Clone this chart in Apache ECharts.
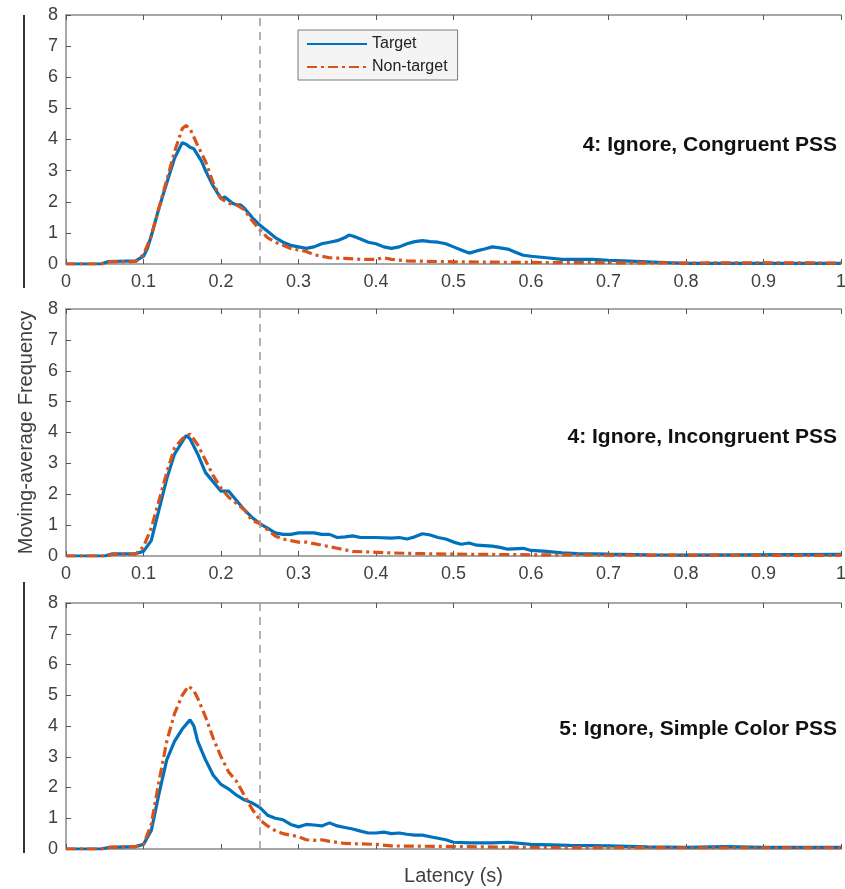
<!DOCTYPE html>
<html>
<head>
<meta charset="utf-8">
<script src="https://cdn.jsdelivr.net/npm/echarts@6/dist/echarts.min.js"></script>
<style>
  html, body { margin: 0; padding: 0; background: #fff; }
  #chart { width: 845px; height: 889px; }
</style>
</head>
<body>
<div id="chart"></div>
<script>
  // latency (s), moving-average frequency
  var panelTitles = ['4: Ignore, Congruent PSS', '4: Ignore, Incongruent PSS', '5: Ignore, Simple Color PSS'];
  var xTicks = [0, 0.1, 0.2, 0.3, 0.4, 0.5, 0.6, 0.7, 0.8, 0.9, 1];
  var cutoff = 0.25;

  var target1 = [[0,0],[0.045,0],[0.055,0.08],[0.09,0.1],[0.1,0.25],[0.105,0.5],[0.11,0.9],[0.12,1.8],[0.13,2.6],[0.14,3.4],[0.15,3.9],[0.155,3.85],[0.16,3.75],[0.165,3.7],[0.17,3.5],[0.175,3.3],[0.18,3.0],[0.19,2.5],[0.2,2.1],[0.205,2.15],[0.21,2.05],[0.215,1.95],[0.22,1.9],[0.225,1.9],[0.23,1.8],[0.24,1.5],[0.25,1.25],[0.26,1.05],[0.27,0.85],[0.28,0.7],[0.29,0.6],[0.3,0.55],[0.31,0.5],[0.32,0.55],[0.33,0.65],[0.34,0.7],[0.35,0.75],[0.36,0.85],[0.365,0.93],[0.37,0.9],[0.38,0.8],[0.39,0.7],[0.4,0.65],[0.41,0.55],[0.42,0.5],[0.43,0.55],[0.44,0.65],[0.45,0.72],[0.46,0.75],[0.47,0.72],[0.48,0.7],[0.49,0.65],[0.5,0.55],[0.51,0.45],[0.52,0.35],[0.53,0.42],[0.54,0.48],[0.55,0.55],[0.56,0.52],[0.57,0.48],[0.58,0.38],[0.59,0.28],[0.6,0.25],[0.62,0.2],[0.64,0.15],[0.66,0.15],[0.68,0.15],[0.7,0.12],[0.72,0.1],[0.75,0.07],[0.78,0.04],[0.8,0.02],[1,0.02]];
  var nonTarget1 = [[0,0],[0.045,0],[0.055,0.07],[0.09,0.08],[0.1,0.3],[0.11,0.9],[0.12,1.8],[0.13,2.7],[0.14,3.6],[0.15,4.35],[0.155,4.45],[0.16,4.35],[0.17,3.8],[0.18,3.3],[0.19,2.6],[0.2,2.1],[0.21,1.95],[0.22,1.9],[0.23,1.75],[0.24,1.4],[0.25,1.1],[0.26,0.85],[0.27,0.7],[0.28,0.6],[0.29,0.5],[0.3,0.45],[0.31,0.4],[0.32,0.3],[0.33,0.25],[0.34,0.2],[0.36,0.18],[0.38,0.15],[0.4,0.15],[0.41,0.2],[0.42,0.15],[0.44,0.1],[0.5,0.07],[0.6,0.05],[0.7,0.04],[0.8,0.03],[0.9,0.04],[1,0.03]];

  var target2 = [[0,0],[0.05,0],[0.06,0.07],[0.09,0.08],[0.1,0.15],[0.11,0.5],[0.12,1.5],[0.13,2.5],[0.14,3.3],[0.15,3.7],[0.155,3.9],[0.16,3.8],[0.17,3.3],[0.18,2.7],[0.19,2.4],[0.2,2.1],[0.21,2.1],[0.22,1.8],[0.23,1.5],[0.24,1.25],[0.25,1.05],[0.26,0.9],[0.27,0.75],[0.28,0.7],[0.29,0.7],[0.3,0.75],[0.31,0.75],[0.32,0.75],[0.33,0.7],[0.34,0.7],[0.35,0.6],[0.36,0.62],[0.37,0.65],[0.38,0.6],[0.4,0.6],[0.42,0.58],[0.43,0.6],[0.44,0.55],[0.45,0.62],[0.46,0.72],[0.47,0.68],[0.48,0.6],[0.49,0.55],[0.5,0.45],[0.51,0.38],[0.52,0.42],[0.53,0.35],[0.55,0.32],[0.56,0.28],[0.57,0.22],[0.59,0.25],[0.6,0.18],[0.62,0.15],[0.64,0.1],[0.66,0.08],[0.7,0.06],[0.75,0.04],[0.8,0.03],[1,0.05]];
  var nonTarget2 = [[0,0],[0.05,0],[0.06,0.05],[0.09,0.06],[0.1,0.3],[0.11,0.9],[0.12,1.8],[0.13,2.7],[0.14,3.5],[0.15,3.8],[0.16,3.95],[0.17,3.6],[0.18,3.1],[0.19,2.6],[0.2,2.2],[0.21,1.9],[0.22,1.7],[0.23,1.5],[0.24,1.15],[0.25,1.05],[0.26,0.85],[0.27,0.65],[0.28,0.55],[0.29,0.5],[0.3,0.45],[0.31,0.45],[0.32,0.4],[0.33,0.35],[0.34,0.3],[0.35,0.25],[0.36,0.2],[0.37,0.15],[0.4,0.12],[0.42,0.1],[0.45,0.08],[0.5,0.06],[0.6,0.04],[0.7,0.03],[1,0.02]];

  var target3 = [[0,0],[0.045,0],[0.055,0.05],[0.09,0.08],[0.1,0.15],[0.11,0.6],[0.12,1.8],[0.13,2.9],[0.14,3.5],[0.15,3.9],[0.16,4.2],[0.165,4.0],[0.17,3.5],[0.18,2.9],[0.19,2.4],[0.2,2.1],[0.21,1.95],[0.22,1.75],[0.23,1.6],[0.24,1.5],[0.25,1.35],[0.26,1.1],[0.27,1.0],[0.28,0.95],[0.29,0.8],[0.3,0.72],[0.31,0.8],[0.32,0.78],[0.33,0.75],[0.34,0.85],[0.35,0.75],[0.36,0.7],[0.37,0.65],[0.38,0.58],[0.39,0.52],[0.4,0.52],[0.41,0.55],[0.42,0.5],[0.43,0.52],[0.44,0.48],[0.45,0.45],[0.46,0.45],[0.47,0.4],[0.48,0.35],[0.49,0.3],[0.5,0.22],[0.52,0.2],[0.55,0.2],[0.57,0.22],[0.6,0.15],[0.65,0.12],[0.7,0.1],[0.75,0.07],[0.8,0.05],[0.85,0.08],[0.9,0.05],[1,0.05]];
  var nonTarget3 = [[0,0],[0.045,0],[0.055,0.05],[0.09,0.08],[0.1,0.15],[0.11,0.8],[0.12,2.2],[0.13,3.5],[0.14,4.4],[0.15,5.0],[0.158,5.3],[0.165,5.15],[0.17,4.9],[0.18,4.3],[0.19,3.6],[0.2,3.0],[0.21,2.5],[0.22,2.2],[0.23,1.75],[0.24,1.3],[0.25,0.95],[0.26,0.75],[0.27,0.6],[0.28,0.5],[0.29,0.45],[0.3,0.4],[0.31,0.3],[0.32,0.28],[0.33,0.3],[0.34,0.25],[0.36,0.18],[0.4,0.15],[0.42,0.1],[0.5,0.08],[0.6,0.05],[0.8,0.04],[1,0.04]];

  var targets = [target1, target2, target3];
  var nonTargets = [nonTarget1, nonTarget2, nonTarget3];

  var BLUE = '#0072BD';
  var ORANGE = '#D95319';
  var AXIS = '#8a8a8a';
  var LABEL = '#404040';
  var FONT = 'Liberation Sans, Arial, sans-serif';

  var gridTops = [15, 309, 603];
  var gridHeights = [249, 247, 246];
  var titleTops = [130, 422, 714];

  var grids = [], xAxes = [], yAxes = [], series = [], titles = [];
  for (var i = 0; i < 3; i++) {
    grids.push({ left: 66, right: 4, top: gridTops[i], height: gridHeights[i], outerBoundsMode: 'none', containLabel: false });
    xAxes.push({
      type: 'value', gridIndex: i, min: 0, max: 1, interval: 0.1,
      axisLine: { lineStyle: { color: AXIS, width: 1.5 } },
      axisTick: { inside: true, length: 5, lineStyle: { color: '#555' } },
      // bottom panel has no tick labels, only the axis title
      axisLabel: { show: i < 2, color: LABEL, fontSize: 18, fontFamily: FONT, margin: 9,
        formatter: function (v) { return (v === 0 || v === 1) ? String(v) : v.toFixed(1); } },
      splitLine: { show: false },
      name: i === 2 ? 'Latency (s)' : '',
      nameLocation: 'middle', nameGap: 17,
      nameTextStyle: { color: LABEL, fontSize: 20, fontFamily: FONT }
    });
    // top border of the box, ticks only
    xAxes.push({
      type: 'value', gridIndex: i, min: 0, max: 1, interval: 0.1, position: 'top',
      axisLine: { lineStyle: { color: AXIS, width: 1.5 } },
      axisTick: { inside: true, length: 5, lineStyle: { color: '#555' } },
      axisLabel: { show: false },
      splitLine: { show: false }
    });
    yAxes.push({
      type: 'value', gridIndex: i, min: 0, max: 8, interval: 1,
      axisLine: { show: true, lineStyle: { color: AXIS, width: 1.5 } },
      axisTick: { show: true, inside: true, length: 5, lineStyle: { color: '#555' } },
      axisLabel: { color: LABEL, fontSize: 18, fontFamily: FONT, margin: 8 },
      splitLine: { show: false },
      name: i === 1 ? 'Moving-average Frequency' : '',
      nameLocation: 'middle', nameGap: 30, nameRotate: 90,
      nameTextStyle: { color: LABEL, fontSize: 20, fontFamily: FONT }
    });
    series.push({
      name: 'Target', type: 'line', xAxisIndex: i * 2, yAxisIndex: i,
      data: targets[i], symbol: 'none', z: 3,
      lineStyle: { color: BLUE, width: 3.2 }, itemStyle: { color: BLUE },
      markLine: {
        silent: true, symbol: 'none', label: { show: false },
        lineStyle: { color: '#9a9a9a', type: [8, 6], width: 1.5 },
        data: [{ xAxis: cutoff }]
      }
    });
    series.push({
      name: 'Non-target', type: 'line', xAxisIndex: i * 2, yAxisIndex: i,
      data: nonTargets[i], symbol: 'none', z: 4,
      lineStyle: { color: ORANGE, width: 3.2, type: [10, 4, 3, 4] }, itemStyle: { color: ORANGE }
    });
    titles.push({
      text: panelTitles[i], right: 3, top: titleTops[i],
      textStyle: { fontSize: 21, fontWeight: 'bold', color: '#111', fontFamily: FONT }
    });
  }

  var option = {
    animation: false,
    backgroundColor: '#fff',
    title: titles,
    grid: grids,
    xAxis: xAxes,
    yAxis: yAxes,
    legend: {
      left: 298, top: 30, orient: 'vertical',
      data: ['Target', 'Non-target'],
      backgroundColor: '#f4f4f4', borderColor: '#7a7a7a', borderWidth: 1,
      padding: [6, 10, 5, 8], itemWidth: 60, itemHeight: 14, itemGap: 7,
      itemStyle: { opacity: 0 },
      textStyle: { fontSize: 16, color: '#222', fontFamily: FONT }
    },
    graphic: [
      { type: 'line', shape: { x1: 24, y1: 15, x2: 24, y2: 288 }, style: { stroke: '#333', lineWidth: 2 } },
      { type: 'line', shape: { x1: 24, y1: 582, x2: 24, y2: 853 }, style: { stroke: '#333', lineWidth: 2 } }
    ],
    series: series
  };

  var myChart = echarts.init(document.getElementById('chart'));
  option && myChart.setOption(option, true);
</script>
</body>
</html>
